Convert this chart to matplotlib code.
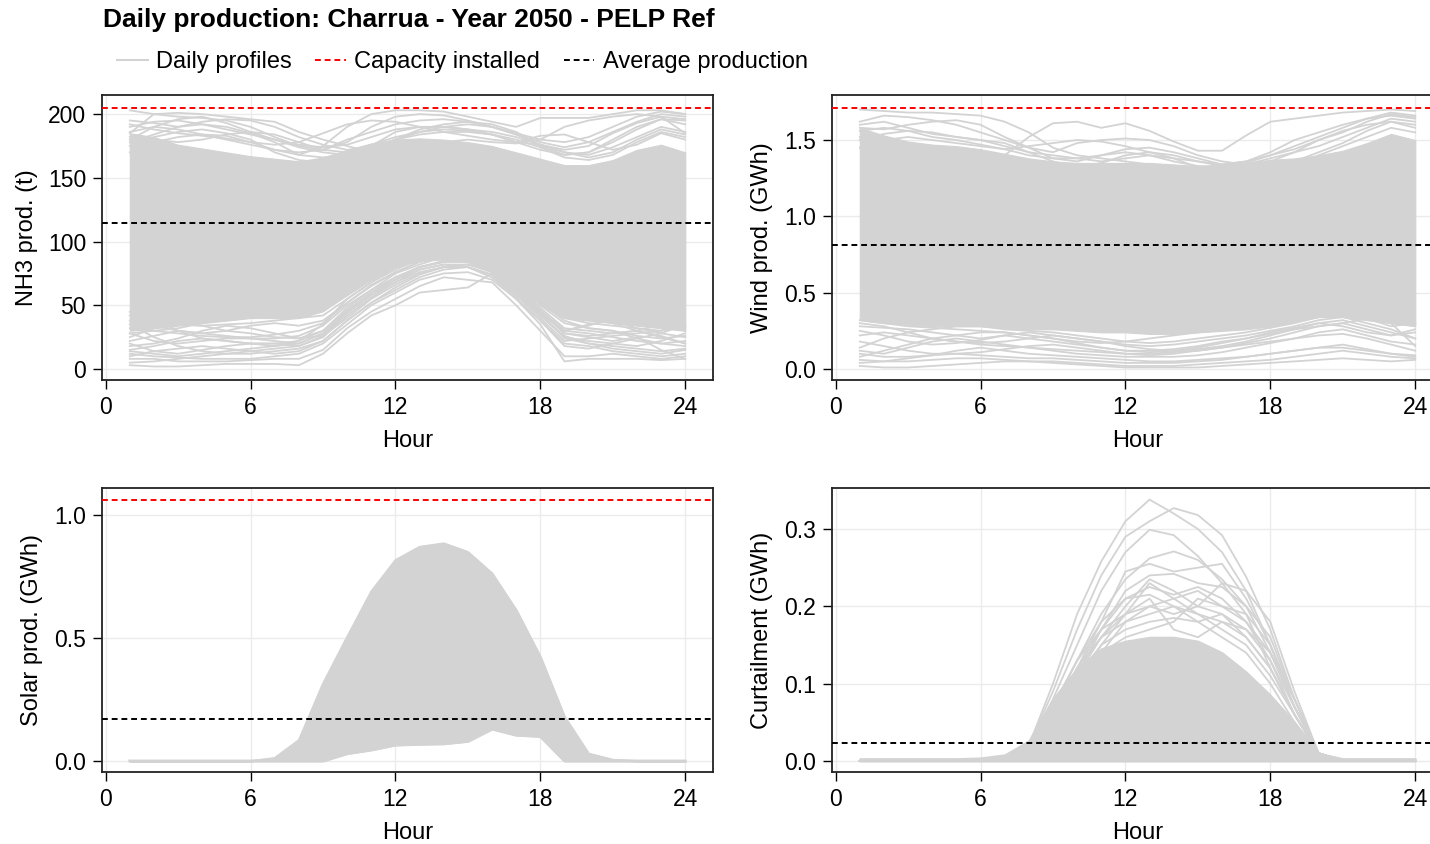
import matplotlib.pyplot as plt
from matplotlib.lines import Line2D

plt.rcParams['font.family'] = ['Liberation Sans', 'DejaVu Sans']

hours = list(range(1, 25))

# ---- NH3 production (t) ----
nh3_capacity = 204.5
nh3_average = 114.8
nh3_core_low = [30, 32, 34, 36, 38, 40, 40, 40, 46, 58, 70, 80, 85, 86, 85, 78, 64, 50, 40, 38, 36, 34, 32, 30]
nh3_core_high = [185, 182, 176, 173, 170, 167, 165, 163, 166, 172, 177, 180, 181, 180, 178, 175, 170, 165, 160, 160, 164, 172, 176, 170]
nh3_profiles = [
    [203, 200, 198, 197, 195, 190, 182, 175, 172, 178, 190, 198, 200, 199, 195, 190, 185, 180, 178, 182, 190, 198, 202, 200],
    [185, 200, 201, 200, 198, 196, 194, 186, 180, 175, 170, 172, 175, 178, 180, 178, 177, 180, 190, 195, 198, 200, 198, 196],
    [195, 193, 190, 192, 190, 185, 178, 168, 175, 190, 200, 203, 203, 202, 198, 194, 190, 197, 197, 197, 200, 203, 203, 200],
    [180, 190, 196, 198, 193, 186, 180, 174, 170, 168, 172, 180, 188, 192, 194, 192, 186, 175, 168, 170, 178, 188, 196, 195],
    [192, 188, 185, 183, 181, 178, 176, 178, 185, 192, 195, 194, 190, 186, 183, 180, 178, 176, 172, 175, 185, 193, 198, 185],
    [175, 182, 186, 188, 185, 180, 170, 164, 162, 166, 175, 186, 190, 190, 188, 186, 182, 176, 170, 168, 174, 182, 190, 186],
    [170, 178, 182, 184, 183, 178, 172, 168, 166, 168, 176, 182, 186, 188, 187, 184, 178, 183, 184, 178, 172, 176, 185, 180],
    [190, 194, 195, 192, 188, 184, 180, 176, 174, 176, 182, 188, 190, 190, 188, 184, 178, 172, 168, 170, 180, 190, 196, 192],
    [178, 184, 190, 194, 196, 195, 190, 182, 176, 172, 174, 180, 186, 190, 192, 190, 184, 178, 174, 178, 186, 194, 200, 198],
    [186, 190, 188, 184, 180, 176, 172, 170, 172, 180, 186, 192, 195, 196, 194, 190, 184, 176, 170, 166, 170, 180, 188, 184],
    [182, 180, 178, 180, 184, 186, 184, 178, 172, 170, 174, 180, 184, 186, 186, 184, 180, 174, 166, 164, 168, 178, 186, 182],
    [3, 2, 2, 3, 4, 4, 4, 3, 12, 28, 42, 50, 60, 62, 64, 75, 55, 35, 6, 8, 8, 8, 7, 8],
    [8, 8, 6, 6, 6, 7, 8, 8, 15, 32, 45, 55, 65, 72, 70, 68, 50, 30, 10, 10, 12, 10, 8, 10],
    [12, 10, 9, 8, 8, 8, 10, 12, 20, 35, 50, 60, 70, 75, 76, 70, 55, 38, 20, 18, 14, 12, 10, 12],
    [20, 14, 12, 15, 18, 20, 20, 18, 25, 42, 56, 68, 78, 82, 80, 72, 58, 42, 25, 22, 20, 18, 22, 28],
    [28, 22, 20, 22, 24, 24, 22, 20, 28, 46, 60, 72, 80, 85, 84, 76, 60, 45, 28, 25, 22, 25, 15, 8],
    [32, 30, 28, 26, 25, 25, 27, 30, 36, 52, 65, 76, 84, 88, 88, 80, 64, 48, 32, 30, 28, 30, 35, 30],
    [15, 18, 22, 24, 22, 20, 18, 22, 35, 55, 68, 80, 86, 90, 92, 85, 70, 52, 38, 32, 30, 24, 20, 18],
    [35, 25, 18, 14, 12, 12, 14, 16, 22, 38, 52, 62, 72, 78, 80, 74, 58, 40, 22, 24, 26, 28, 30, 40],
    [25, 32, 35, 34, 30, 28, 25, 24, 30, 48, 62, 75, 82, 88, 85, 78, 62, 46, 30, 35, 38, 32, 28, 25],
    [42, 38, 35, 34, 35, 36, 38, 40, 45, 58, 72, 80, 86, 90, 90, 84, 68, 52, 40, 36, 34, 32, 30, 34],
    [22, 26, 30, 28, 26, 24, 24, 26, 34, 50, 62, 72, 80, 84, 84, 76, 62, 46, 30, 28, 25, 22, 20, 22],
    [10, 14, 16, 18, 16, 14, 12, 14, 22, 38, 52, 64, 74, 80, 82, 78, 62, 44, 24, 20, 18, 16, 14, 16],
    [45, 40, 30, 24, 22, 20, 20, 22, 30, 46, 60, 70, 78, 82, 82, 76, 60, 42, 26, 20, 16, 14, 12, 15],
    [5, 6, 8, 10, 12, 14, 16, 18, 26, 44, 58, 70, 80, 84, 86, 80, 64, 46, 28, 26, 28, 30, 26, 20],
    [18, 20, 24, 30, 34, 32, 28, 24, 26, 40, 55, 66, 75, 80, 80, 74, 60, 44, 30, 34, 40, 42, 38, 32],
    [38, 34, 30, 28, 30, 34, 36, 34, 38, 52, 66, 76, 84, 88, 88, 80, 66, 50, 36, 32, 30, 26, 24, 26],
    [28, 30, 32, 36, 40, 42, 42, 40, 42, 55, 68, 78, 86, 90, 90, 82, 68, 54, 42, 40, 36, 30, 25, 20],
    [14, 12, 10, 12, 14, 16, 18, 20, 28, 44, 58, 68, 76, 80, 80, 72, 56, 38, 18, 16, 20, 24, 28, 35],
]

# ---- Wind production (GWh) ----
wind_capacity = 1.71
wind_average = 0.81
wind_core_low = [0.32, 0.30, 0.29, 0.28, 0.28, 0.28, 0.27, 0.26, 0.26, 0.25, 0.24, 0.24, 0.23, 0.23, 0.24, 0.25, 0.26, 0.28, 0.31, 0.34, 0.34, 0.32, 0.30, 0.28]
wind_core_high = [1.58, 1.53, 1.49, 1.47, 1.46, 1.44, 1.41, 1.38, 1.36, 1.35, 1.35, 1.35, 1.35, 1.34, 1.33, 1.34, 1.35, 1.37, 1.38, 1.40, 1.43, 1.48, 1.54, 1.50]
wind_profiles = [
    [1.70, 1.69, 1.68, 1.68, 1.67, 1.66, 1.62, 1.55, 1.45, 1.40, 1.38, 1.36, 1.34, 1.32, 1.30, 1.32, 1.35, 1.40, 1.46, 1.52, 1.58, 1.64, 1.68, 1.66],
    [1.52, 1.50, 1.48, 1.46, 1.44, 1.42, 1.40, 1.52, 1.61, 1.62, 1.58, 1.61, 1.56, 1.49, 1.43, 1.43, 1.53, 1.62, 1.64, 1.66, 1.68, 1.69, 1.70, 1.69],
    [1.62, 1.66, 1.65, 1.63, 1.60, 1.55, 1.50, 1.45, 1.42, 1.48, 1.50, 1.51, 1.50, 1.46, 1.40, 1.36, 1.34, 1.36, 1.42, 1.50, 1.56, 1.60, 1.62, 1.60],
    [1.58, 1.57, 1.60, 1.62, 1.63, 1.60, 1.52, 1.45, 1.38, 1.36, 1.40, 1.44, 1.45, 1.42, 1.38, 1.34, 1.36, 1.42, 1.50, 1.55, 1.60, 1.64, 1.66, 1.64],
    [1.50, 1.54, 1.56, 1.55, 1.52, 1.50, 1.48, 1.42, 1.36, 1.32, 1.35, 1.40, 1.42, 1.40, 1.36, 1.33, 1.30, 1.32, 1.36, 1.42, 1.48, 1.56, 1.62, 1.58],
    [1.45, 1.50, 1.52, 1.50, 1.48, 1.46, 1.44, 1.46, 1.48, 1.50, 1.49, 1.46, 1.42, 1.38, 1.32, 1.28, 1.26, 1.28, 1.34, 1.40, 1.46, 1.52, 1.58, 1.55],
    [1.56, 1.58, 1.56, 1.52, 1.50, 1.47, 1.44, 1.40, 1.38, 1.38, 1.40, 1.42, 1.40, 1.36, 1.33, 1.32, 1.34, 1.38, 1.42, 1.46, 1.52, 1.58, 1.64, 1.62],
    [1.60, 1.62, 1.58, 1.54, 1.52, 1.50, 1.46, 1.42, 1.40, 1.38, 1.36, 1.38, 1.40, 1.38, 1.36, 1.34, 1.36, 1.40, 1.44, 1.50, 1.55, 1.62, 1.67, 1.65],
    [0.02, 0.01, 0.01, 0.02, 0.03, 0.04, 0.05, 0.05, 0.04, 0.03, 0.02, 0.01, 0.01, 0.01, 0.01, 0.02, 0.03, 0.04, 0.05, 0.06, 0.07, 0.06, 0.05, 0.06],
    [0.06, 0.05, 0.05, 0.06, 0.07, 0.07, 0.06, 0.05, 0.05, 0.04, 0.03, 0.02, 0.02, 0.02, 0.03, 0.04, 0.05, 0.06, 0.08, 0.10, 0.12, 0.10, 0.08, 0.07],
    [0.10, 0.08, 0.08, 0.09, 0.12, 0.14, 0.12, 0.10, 0.09, 0.08, 0.07, 0.06, 0.05, 0.05, 0.06, 0.07, 0.08, 0.10, 0.12, 0.14, 0.16, 0.13, 0.10, 0.08],
    [0.18, 0.15, 0.12, 0.10, 0.10, 0.11, 0.13, 0.15, 0.16, 0.14, 0.12, 0.10, 0.09, 0.10, 0.12, 0.14, 0.16, 0.18, 0.20, 0.22, 0.23, 0.20, 0.16, 0.12],
    [0.25, 0.22, 0.18, 0.16, 0.17, 0.19, 0.22, 0.20, 0.18, 0.16, 0.14, 0.12, 0.12, 0.13, 0.15, 0.18, 0.20, 0.23, 0.26, 0.30, 0.28, 0.24, 0.22, 0.26],
    [0.28, 0.27, 0.26, 0.24, 0.22, 0.20, 0.22, 0.24, 0.22, 0.20, 0.18, 0.16, 0.15, 0.16, 0.18, 0.20, 0.22, 0.25, 0.28, 0.32, 0.34, 0.30, 0.26, 0.20],
    [0.14, 0.20, 0.24, 0.26, 0.28, 0.28, 0.26, 0.25, 0.24, 0.22, 0.20, 0.18, 0.17, 0.18, 0.20, 0.22, 0.24, 0.27, 0.30, 0.34, 0.36, 0.33, 0.28, 0.30],
    [0.32, 0.30, 0.28, 0.27, 0.26, 0.25, 0.24, 0.22, 0.20, 0.18, 0.17, 0.18, 0.20, 0.22, 0.24, 0.26, 0.28, 0.30, 0.32, 0.35, 0.37, 0.35, 0.30, 0.15],
    [0.12, 0.10, 0.14, 0.18, 0.20, 0.18, 0.16, 0.14, 0.12, 0.10, 0.09, 0.08, 0.08, 0.08, 0.09, 0.11, 0.14, 0.17, 0.20, 0.24, 0.26, 0.22, 0.18, 0.16],
    [0.22, 0.24, 0.22, 0.20, 0.18, 0.16, 0.15, 0.14, 0.13, 0.12, 0.11, 0.10, 0.10, 0.11, 0.13, 0.15, 0.18, 0.22, 0.26, 0.28, 0.30, 0.26, 0.22, 0.24],
    [0.08, 0.12, 0.16, 0.20, 0.22, 0.24, 0.24, 0.22, 0.20, 0.17, 0.14, 0.12, 0.11, 0.12, 0.14, 0.17, 0.20, 0.24, 0.27, 0.30, 0.32, 0.28, 0.24, 0.20],
    [0.30, 0.28, 0.24, 0.20, 0.18, 0.17, 0.18, 0.20, 0.22, 0.20, 0.18, 0.15, 0.13, 0.12, 0.12, 0.14, 0.17, 0.20, 0.24, 0.28, 0.30, 0.33, 0.35, 0.30],
    [0.04, 0.05, 0.07, 0.09, 0.10, 0.09, 0.08, 0.07, 0.07, 0.06, 0.05, 0.04, 0.04, 0.04, 0.05, 0.06, 0.08, 0.10, 0.12, 0.14, 0.14, 0.12, 0.10, 0.09],
]

# ---- Solar production (GWh) ----
solar_capacity = 1.061
solar_average = 0.171
solar_min = [0, 0, 0, 0, 0, 0, 0, 0, 0, 0.03, 0.045, 0.065, 0.068, 0.07, 0.08, 0.13, 0.105, 0.10, 0, 0, 0, 0, 0, 0]
solar_max = [0, 0, 0, 0, 0, 0, 0.012, 0.085, 0.315, 0.505, 0.69, 0.817, 0.871, 0.885, 0.85, 0.763, 0.614, 0.424, 0.18, 0.03, 0.005, 0, 0, 0]

# ---- Curtailment (GWh) ----
curt_average = 0.0233
curt_core_low = [0] * 24
curt_core_high = [0.003, 0.003, 0.003, 0.003, 0.003, 0.004, 0.008, 0.026, 0.08, 0.12, 0.145, 0.155, 0.16, 0.16, 0.155, 0.14, 0.115, 0.085, 0.05, 0.01, 0.003, 0.003, 0.003, 0.003]
curt_profiles = [
    [0] * 7 + [0.02, 0.10, 0.19, 0.258, 0.31, 0.338, 0.32, 0.30, 0.27, 0.22, 0.15, 0.07, 0.01] + [0] * 4,
    [0] * 7 + [0.02, 0.09, 0.17, 0.24, 0.29, 0.31, 0.327, 0.318, 0.292, 0.238, 0.17, 0.08, 0.01] + [0] * 4,
    [0] * 7 + [0.02, 0.08, 0.15, 0.22, 0.27, 0.299, 0.292, 0.265, 0.23, 0.19, 0.12, 0.06, 0.01] + [0] * 4,
    [0] * 7 + [0.02, 0.07, 0.13, 0.19, 0.235, 0.262, 0.271, 0.26, 0.235, 0.20, 0.14, 0.07, 0.01] + [0] * 4,
    [0] * 7 + [0.02, 0.06, 0.12, 0.18, 0.245, 0.255, 0.245, 0.25, 0.255, 0.21, 0.15, 0.07, 0.01] + [0] * 4,
    [0] * 7 + [0.02, 0.06, 0.12, 0.17, 0.22, 0.24, 0.242, 0.23, 0.225, 0.20, 0.16, 0.08, 0.01] + [0] * 4,
    [0] * 7 + [0.02, 0.06, 0.11, 0.16, 0.20, 0.235, 0.22, 0.20, 0.23, 0.22, 0.18, 0.09, 0.01] + [0] * 4,
    [0] * 7 + [0.02, 0.05, 0.10, 0.15, 0.19, 0.23, 0.21, 0.19, 0.18, 0.17, 0.14, 0.07, 0.01] + [0] * 4,
    [0] * 7 + [0.02, 0.06, 0.11, 0.17, 0.21, 0.225, 0.215, 0.225, 0.21, 0.18, 0.13, 0.06, 0.01] + [0] * 4,
    [0] * 7 + [0.02, 0.05, 0.10, 0.14, 0.18, 0.20, 0.21, 0.22, 0.20, 0.19, 0.15, 0.08, 0.01] + [0] * 4,
    [0] * 7 + [0.02, 0.07, 0.13, 0.17, 0.19, 0.20, 0.19, 0.20, 0.19, 0.16, 0.12, 0.06, 0.01] + [0] * 4,
    [0] * 7 + [0.02, 0.06, 0.12, 0.16, 0.18, 0.19, 0.20, 0.19, 0.17, 0.15, 0.11, 0.06, 0.01] + [0] * 4,
    [0] * 7 + [0.02, 0.05, 0.11, 0.15, 0.17, 0.18, 0.185, 0.18, 0.19, 0.17, 0.13, 0.07, 0.01] + [0] * 4,
    [0] * 7 + [0.02, 0.06, 0.12, 0.16, 0.19, 0.21, 0.17, 0.16, 0.18, 0.16, 0.12, 0.06, 0.01] + [0] * 4,
    [0] * 7 + [0.02, 0.07, 0.13, 0.18, 0.21, 0.215, 0.20, 0.18, 0.16, 0.14, 0.10, 0.05, 0.01] + [0] * 4,
    [0] * 7 + [0.02, 0.05, 0.10, 0.14, 0.16, 0.17, 0.18, 0.21, 0.20, 0.18, 0.14, 0.08, 0.01] + [0] * 4,
]

GRAY = '#d3d3d3'
LW = 1.3

fig = plt.figure(figsize=(14.3, 8.44), dpi=100)

W, H = 611 / 1430, 285 / 844
ax_nh3 = fig.add_axes([102 / 1430, 1 - 380 / 844, W, H])
ax_wind = fig.add_axes([832 / 1430, 1 - 380 / 844, W, H])
ax_solar = fig.add_axes([102 / 1430, 1 - 772 / 844, W, 284 / 844])
ax_curt = fig.add_axes([832 / 1430, 1 - 772 / 844, W, 284 / 844])


def style(ax, ylim, yticks, fmt, ylabel, label_x):
    ax.set_xlim(-0.15, 25.15)
    ax.set_ylim(*ylim)
    ax.set_xticks([0, 6, 12, 18, 24])
    ax.set_yticks(yticks)
    ax.set_yticklabels([fmt.format(v) for v in yticks])
    ax.grid(True, color='#ebebeb', lw=1.0)
    ax.set_axisbelow(True)
    for s in ax.spines.values():
        s.set_linewidth(1.3)
        s.set_color('#222222')
    ax.tick_params(direction='out', length=6.5, width=1.0, pad=5, labelsize=16.5, colors='black')
    ax.set_xlabel('Hour', fontsize=17)
    ax.xaxis.set_label_coords(0.5, -0.175)
    ax.set_ylabel(ylabel, fontsize=17)
    ax.yaxis.set_label_coords(label_x, 0.5)


# NH3
ax = ax_nh3
ax.fill_between(hours, nh3_core_low, nh3_core_high, color=GRAY, lw=0.8, zorder=2)
for p in nh3_profiles:
    ax.plot(hours, p, color=GRAY, lw=LW, zorder=2)
ax.axhline(nh3_capacity, color='red', ls=(0, (3, 2)), lw=1.4, zorder=3)
ax.axhline(nh3_average, color='black', ls=(0, (3, 2)), lw=1.4, zorder=3)
style(ax, (-8.6, 215), [0, 50, 100, 150, 200], '{:d}', 'NH3 prod. (t)', -0.105)

# Wind
ax = ax_wind
ax.fill_between(hours, wind_core_low, wind_core_high, color=GRAY, lw=0.8, zorder=2)
for p in wind_profiles:
    ax.plot(hours, p, color=GRAY, lw=LW, zorder=2)
ax.axhline(wind_capacity, color='red', ls=(0, (3, 2)), lw=1.4, zorder=3)
ax.axhline(wind_average, color='black', ls=(0, (3, 2)), lw=1.4, zorder=3)
style(ax, (-0.072, 1.795), [0.0, 0.5, 1.0, 1.5], '{:.1f}', 'Wind prod. (GWh)', -0.097)

# Solar
ax = ax_solar
ax.fill_between(hours, solar_min, solar_max, color=GRAY, lw=1.5, zorder=2)
ax.plot(hours, solar_max, color=GRAY, lw=LW, zorder=2)
ax.plot(hours, solar_min, color=GRAY, lw=2.0, zorder=2)
ax.axhline(solar_capacity, color='red', ls=(0, (3, 2)), lw=1.4, zorder=3)
ax.axhline(solar_average, color='black', ls=(0, (3, 2)), lw=1.4, zorder=3)
style(ax, (-0.045, 1.11), [0.0, 0.5, 1.0], '{:.1f}', 'Solar prod. (GWh)', -0.097)

# Curtailment
ax = ax_curt
ax.fill_between(hours, curt_core_low, curt_core_high, color=GRAY, lw=1.5, zorder=2)
for p in curt_profiles:
    ax.plot(hours, p, color=GRAY, lw=LW, zorder=2)
ax.axhline(curt_average, color='black', ls=(0, (3, 2)), lw=1.4, zorder=3)
style(ax, (-0.0142, 0.353), [0.0, 0.1, 0.2, 0.3], '{:.1f}', 'Curtailment (GWh)', -0.097)

fig.text(103 / 1430, 1 - 20 / 844, 'Daily production: Charrua - Year 2050 - PELP Ref',
         fontsize=19, fontweight='bold', ha='left', va='center')

handles = [
    Line2D([], [], color=GRAY, lw=1.5),
    Line2D([], [], color='red', lw=1.4, ls=(0, (3, 2))),
    Line2D([], [], color='black', lw=1.4, ls=(0, (3, 2))),
]
fig.legend(handles, ['Daily profiles', 'Capacity installed', 'Average production'],
           loc='center left', bbox_to_anchor=(117 / 1430, 1 - 62 / 844), ncol=3,
           frameon=False, fontsize=17, handlelength=1.3, handletextpad=0.35,
           columnspacing=1.0, borderpad=0, borderaxespad=0)

fig.savefig('out.png', dpi=100)
